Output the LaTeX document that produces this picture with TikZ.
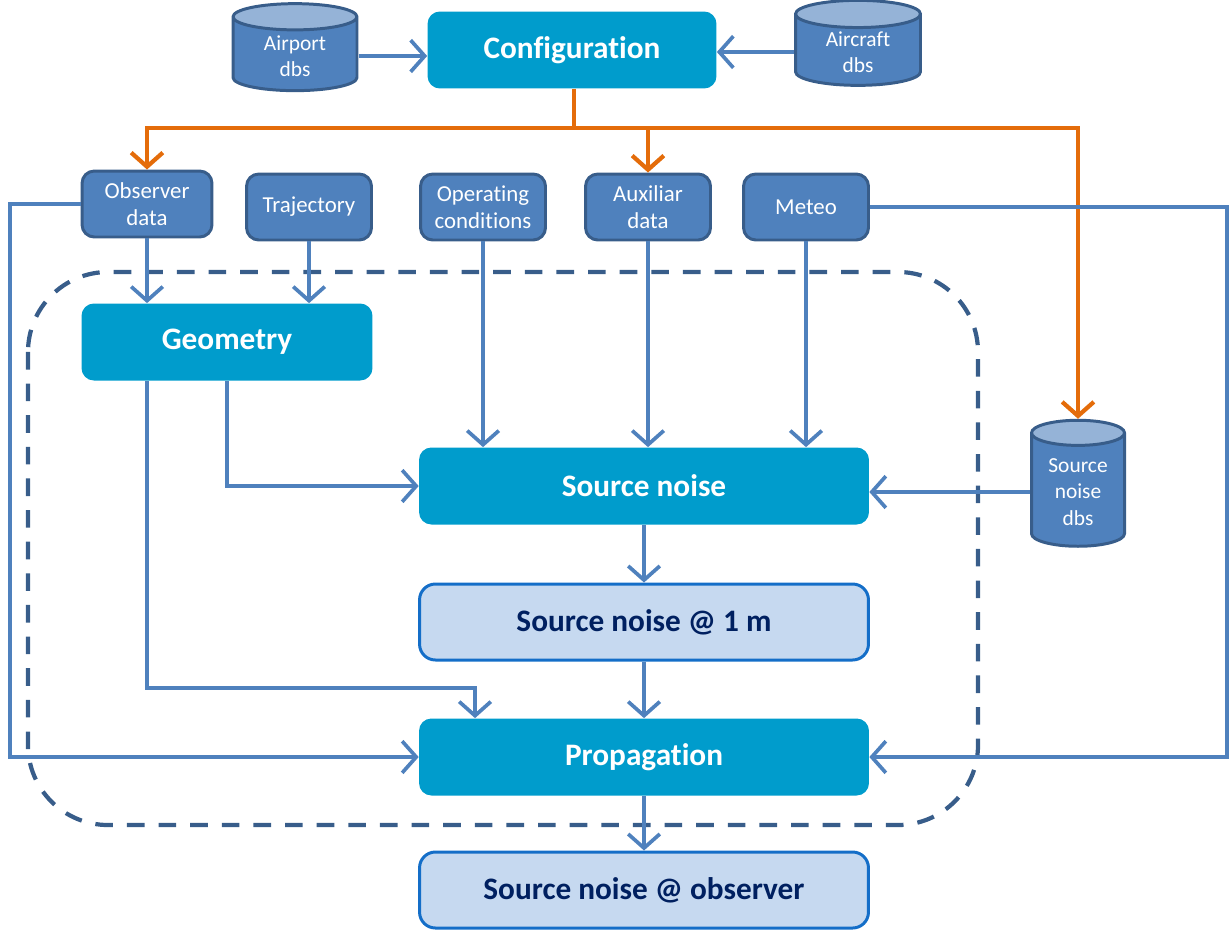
\documentclass[tikz,border=0pt]{standalone}
\usepackage{fontspec}
\setmainfont[Ligatures=NoCommon]{Carlito}
\usepackage{tikz}
\usetikzlibrary{arrows.meta, positioning, shapes.geometric}
\usepackage{xcolor}
\definecolor{boxblue}{RGB}{79,129,189}
\definecolor{boxedge}{RGB}{56,93,138}
\definecolor{dbtop}{RGB}{149,179,215}
\definecolor{procblue}{RGB}{0,156,204}
\definecolor{paleblue}{RGB}{198,217,240}
\definecolor{paleedge}{RGB}{20,110,200}
\definecolor{navytext}{RGB}{0,32,96}
\definecolor{cfgorange}{RGB}{228,108,10}

\begin{document}
\begin{tikzpicture}[x=0.02cm, y=-0.02cm,
  data/.style={draw=boxedge, line width=1.7pt, fill=boxblue, rounded corners=7pt,
    minimum width=2.5cm, minimum height=1.32cm, text=white, align=center,
    font=\fontsize{13}{15.5}\selectfont},
  proc/.style={fill=procblue, rounded corners=7pt, text=white, minimum height=1.54cm,
    font=\fontsize{17.8}{20}\selectfont\bfseries},
  result/.style={draw=paleedge, line width=1.7pt, fill=paleblue, rounded corners=9pt,
    text=navytext, minimum width=8.98cm, minimum height=1.52cm,
    font=\fontsize{17.8}{20}\selectfont\bfseries},
  dbs/.style={cylinder, shape border rotate=90, aspect=0.4, draw=boxedge, line width=1.7pt,
    cylinder uses custom fill, cylinder body fill=boxblue, cylinder end fill=dbtop,
    text=white, align=center, inner sep=1pt, font=\fontsize{12.2}{15}\selectfont},
  link/.style={draw=boxblue, line width=2.1pt,
    -{Straight Barb[length=8pt, width=18pt, line width=2.1pt]}},
  cfg/.style={draw=cfgorange, line width=2.4pt},
  cfgarrow/.style={cfg, -{Straight Barb[length=8pt, width=18pt, line width=2.4pt]}}]
  \useasboundingbox (0,0) rectangle (1229,930);

  % process frame
  \draw[boxedge, line width=2.4pt, dash pattern=on 10pt off 8pt, rounded corners=1.6cm]
    (28,272) rectangle (978,825);

  % inputs
  \node[dbs, minimum width=2.48cm, minimum height=1.74cm] (apt) at (295,56) {Airport\\dbs};
  \node[dbs, minimum width=2.5cm, minimum height=1.7cm] (acf) at (858,52) {Aircraft\\dbs};
  \node[proc, minimum width=5.78cm] (conf) at (572,50) {Configuration};
  \node[data, minimum width=2.6cm] (obs) at (147,204) {Observer\\data};
  \node[data] (traj) at (309,207) {Trajectory};
  \node[data] (opc) at (483,207) {Operating\\conditions};
  \node[data] (aux) at (648,207) {Auxiliar\\data};
  \node[data] (met) at (806,207) {Meteo};
  \node[dbs, minimum width=1.86cm, minimum height=2.52cm] (snd) at (1078,492) {Source\\noise\\dbs};

  % processes
  \node[proc, minimum width=5.82cm] (geo) at (227,342) {Geometry};
  \node[proc, minimum width=9cm] (sn) at (644,486) {Source noise};
  \node[result] (sn1) at (644,622) {Source noise @ 1 m};
  \node[proc, minimum width=9cm] (prop) at (644,757) {Propagation};
  \node[result] (snobs) at (644,890) {Source noise @ observer};

  \coordinate (split) at (574,128);
  \coordinate (lft) at (10,757);
  \coordinate (rgt) at (1227,757);
  \coordinate (bend) at (475,688);

  % configuration
  \draw[link] (apt.east) -- (apt.east -| conf.west);
  \draw[link] (acf.west) -- (acf.west -| conf.east);
  \draw[cfg] (conf.south -| split) -- (split);
  \foreach \n in {obs, aux, snd}
    \draw[cfgarrow] (split) -| (\n.north);

  % data flow
  \foreach \n in {obs, traj}
    \draw[link] (\n.south) -- (\n.south |- geo.north);
  \foreach \n in {opc, aux, met}
    \draw[link] (\n.south) -- (\n.south |- sn.north);
  \draw[link] (geo.south) |- (sn.west);
  \draw[link] (snd.west) -- (snd.west -| sn.east);
  \draw[link] (geo.south -| obs.south) |- (bend) -- (bend |- prop.north);
  \draw[link] (obs.west) -| (lft) -- (prop.west);
  \draw[link] (met.east) -| (rgt) -- (prop.east);
  \draw[link] (sn) -- (sn1);
  \draw[link] (sn1) -- (prop);
  \draw[link] (prop) -- (snobs);
\end{tikzpicture}
\end{document}
